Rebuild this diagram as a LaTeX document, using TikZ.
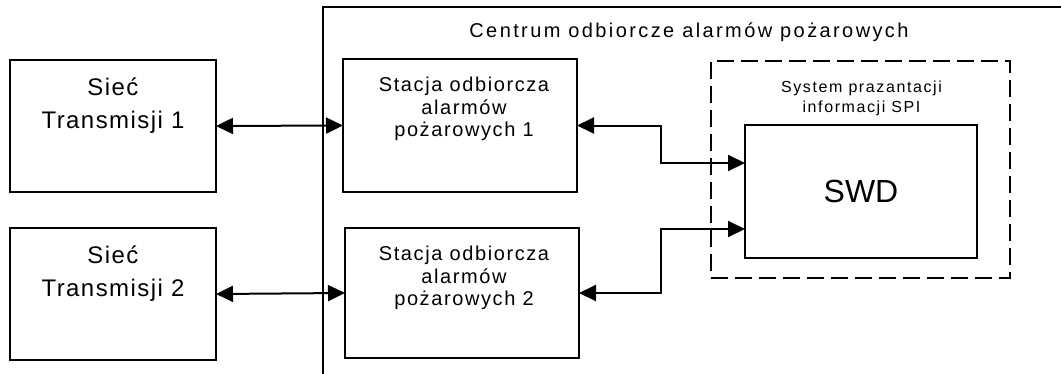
\documentclass[tikz,border=0pt]{standalone}
\usepackage{fontspec}
\setmainfont{Liberation Sans}
\newfontfamily\fsiec[LetterSpace=6]{Liberation Sans}
\newfontfamily\fstac[LetterSpace=8]{Liberation Sans}
\newfontfamily\ftitle[LetterSpace=12]{Liberation Sans}
\newfontfamily\fspi[LetterSpace=10]{Liberation Sans}
\usetikzlibrary{arrows.meta,calc}
\tikzset{
  box/.style={draw, line width=2pt, outer sep=0pt, inner sep=0pt},
  dbox/.style={draw, line width=2pt, outer sep=0pt, inner sep=0pt, dash pattern=on 17pt off 7pt},
  lbl/.style={anchor=north, inner sep=0pt, align=center},
  conn/.style={line width=2pt, {Triangle[length=17pt,width=16pt]}-{Triangle[length=17pt,width=16pt]}},
}
\begin{document}
\begin{tikzpicture}[x=1pt,y=-1pt]
\useasboundingbox (0,0) rectangle (1061,373);
% container
\coordinate (cbl) at (323,380);
\coordinate (ctl) at (323,7);
\coordinate (ctr) at (1070,7);
\draw[line width=1.7pt] (cbl) -- (ctl) -- (ctr);
\node[anchor=base, inner sep=0pt, font=\ftitle\fontsize{20}{24}\selectfont] (title) at (689,37) {Centrum odbiorcze alarmów pożarowych};
% boxes
\node[box, minimum width=206pt, minimum height=132pt] (s1) at (113,126) {};
\node[box, minimum width=206pt, minimum height=132pt] (s2) at (113,294) {};
\node[box, minimum width=234pt, minimum height=133pt] (st1) at (460,125.5) {};
\node[box, minimum width=234pt, minimum height=130pt] (st2) at (462,293) {};
\node[dbox, minimum width=299pt, minimum height=217pt] (spi) at (860.5,169.5) {};
\node[box, minimum width=232pt, minimum height=133pt, font=\fontsize{32}{38}\selectfont] (swd) at (861,191.5) {SWD};
% labels
\node[lbl, font=\fsiec\fontsize{24}{33}\selectfont] (s1t) at ($(s1.north)+(0,18)$) {Sieć\\Transmisji 1};
\node[lbl, font=\fsiec\fontsize{24}{33}\selectfont] (s2t) at ($(s2.north)+(0,18)$) {Sieć\\Transmisji 2};
\node[lbl, font=\fstac\fontsize{20}{22.5}\selectfont] (st1t) at ($(st1.north)+(4,18)$) {Stacja odbiorcza\\alarmów\\pożarowych 1};
\node[lbl, font=\fstac\fontsize{20}{22.5}\selectfont] (st2t) at ($(st2.north)+(2,18)$) {Stacja odbiorcza\\alarmów\\pożarowych 2};
\node[lbl, font=\fspi\fontsize{16}{20}\selectfont] (spit) at ($(spi.north)+(1,20)$) {System prazantacji\\informacji SPI};
% connectors
\draw[conn] (s1.east) -- (st1.west);
\draw[conn] (s2.east) -- (st2.west);
\coordinate (j1) at (661,163);
\coordinate (j2) at (661,229);
\draw[conn] (st1.east) -| (j1) -- (swd.west |- j1);
\draw[conn] (st2.east) -| (j2) -- (swd.west |- j2);
\end{tikzpicture}
\end{document}
